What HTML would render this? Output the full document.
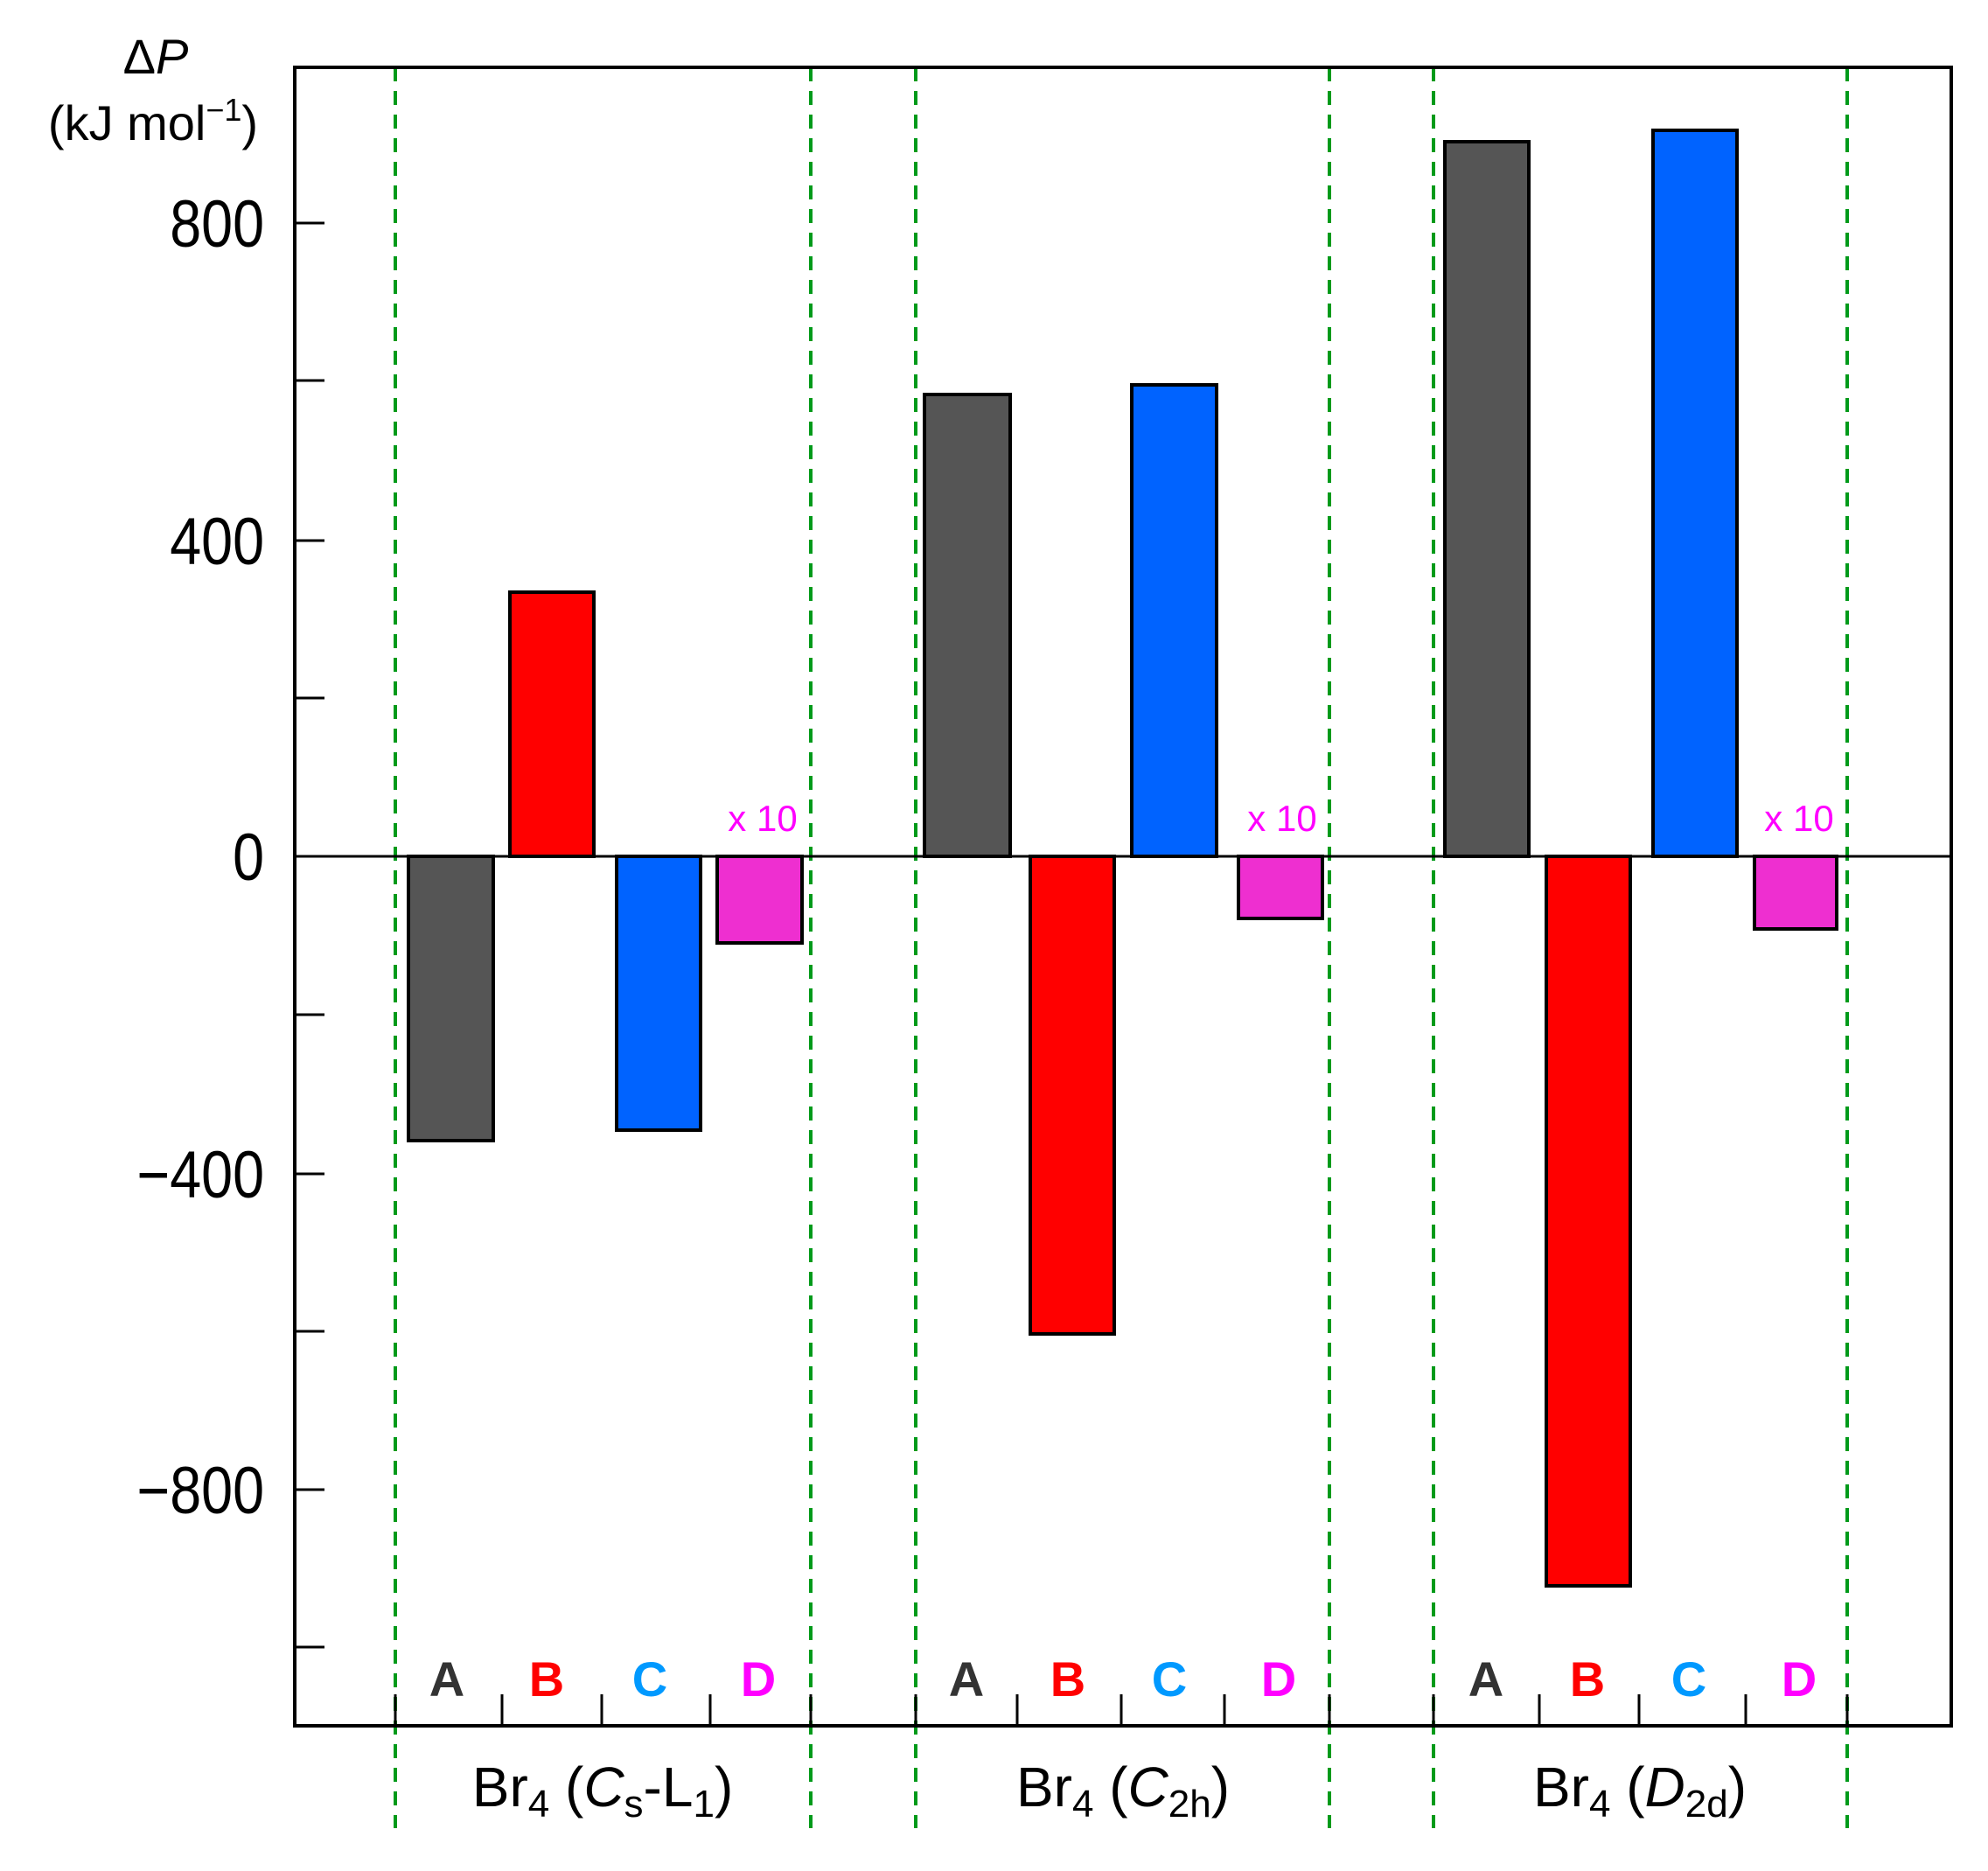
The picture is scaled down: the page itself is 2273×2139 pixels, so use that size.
<!DOCTYPE html>
<html><head><style>html,body{margin:0;padding:0;background:#fff}svg{display:block}</style></head>
<body>
<svg width="2273" height="2139" viewBox="0 0 2273 2139" xmlns="http://www.w3.org/2000/svg" font-family="Liberation Sans, Arial, sans-serif">
<rect width="2273" height="2139" fill="#fff"/>
<g stroke="#009a1a" stroke-width="4" stroke-dasharray="16 11">
<line x1="452" y1="77" x2="452" y2="2090"/>
<line x1="927" y1="77" x2="927" y2="2090"/>
<line x1="1047" y1="77" x2="1047" y2="2090"/>
<line x1="1520" y1="77" x2="1520" y2="2090"/>
<line x1="1639" y1="77" x2="1639" y2="2090"/>
<line x1="2112" y1="77" x2="2112" y2="2090"/>
</g>
<line x1="337" y1="979" x2="2231" y2="979" stroke="#000" stroke-width="3"/>
<g stroke="#000" stroke-width="4">
<rect x="467" y="979" width="97" height="325" fill="#555"/>
<rect x="583" y="677" width="96" height="302" fill="#ff0000"/>
<rect x="705" y="979" width="96" height="313" fill="#0063ff"/>
<rect x="820" y="979" width="97" height="99" fill="#ee2fd0"/>
<rect x="1057" y="451" width="98" height="528" fill="#555"/>
<rect x="1178" y="979" width="96" height="546" fill="#ff0000"/>
<rect x="1294" y="440" width="97" height="539" fill="#0063ff"/>
<rect x="1416" y="979" width="96" height="71" fill="#ee2fd0"/>
<rect x="1652" y="162" width="96" height="817" fill="#555"/>
<rect x="1768" y="979" width="96" height="834" fill="#ff0000"/>
<rect x="1890" y="149" width="96" height="830" fill="#0063ff"/>
<rect x="2006" y="979" width="94" height="83" fill="#ee2fd0"/>
</g>
<rect x="337" y="77" width="1894" height="1896" fill="none" stroke="#000" stroke-width="4"/>
<g stroke="#000" stroke-width="3">
<line x1="337" x2="371" y1="255" y2="255"/><line x1="337" x2="371" y1="435" y2="435"/>
<line x1="337" x2="371" y1="618" y2="618"/><line x1="337" x2="371" y1="798" y2="798"/>
<line x1="337" x2="371" y1="1160" y2="1160"/><line x1="337" x2="371" y1="1342" y2="1342"/>
<line x1="337" x2="371" y1="1522" y2="1522"/><line x1="337" x2="371" y1="1703" y2="1703"/>
<line x1="337" x2="371" y1="1883" y2="1883"/>
<g>
<line x1="452" x2="452" y1="1937" y2="1973"/><line x1="574" x2="574" y1="1937" y2="1973"/>
<line x1="688" x2="688" y1="1937" y2="1973"/><line x1="812" x2="812" y1="1937" y2="1973"/>
<line x1="927" x2="927" y1="1937" y2="1973"/><line x1="1047" x2="1047" y1="1937" y2="1973"/>
<line x1="1163" x2="1163" y1="1937" y2="1973"/><line x1="1282" x2="1282" y1="1937" y2="1973"/>
<line x1="1400" x2="1400" y1="1937" y2="1973"/><line x1="1520" x2="1520" y1="1937" y2="1973"/>
<line x1="1639" x2="1639" y1="1937" y2="1973"/><line x1="1760" x2="1760" y1="1937" y2="1973"/>
<line x1="1874" x2="1874" y1="1937" y2="1973"/><line x1="1996" x2="1996" y1="1937" y2="1973"/>
<line x1="2112" x2="2112" y1="1937" y2="1973"/>
</g>
</g>
<g font-size="76" text-anchor="end" fill="#000">
<text x="302" y="282" transform="translate(302 0) scale(0.85 1) translate(-302 0)">800</text>
<text x="302" y="645" transform="translate(302 0) scale(0.85 1) translate(-302 0)">400</text>
<text x="302" y="1006" transform="translate(302 0) scale(0.85 1) translate(-302 0)">0</text>
<text x="302" y="1369" transform="translate(302 0) scale(0.85 1) translate(-302 0)">−400</text>
<text x="302" y="1730" transform="translate(302 0) scale(0.85 1) translate(-302 0)">−800</text>
</g>
<text x="178" y="84" font-size="56" text-anchor="middle">Δ<tspan font-style="italic">P</tspan></text>
<text x="175" y="160" font-size="56" text-anchor="middle">(kJ mol<tspan font-size="36" dy="-22">−1</tspan><tspan dy="22">)</tspan></text>
<g font-size="42" fill="#ff00ff" text-anchor="middle">
<text x="872" y="950">x 10</text><text x="1466" y="950">x 10</text><text x="2057" y="950">x 10</text>
</g>
<g font-size="56" font-weight="bold" text-anchor="middle">
<text x="511" y="1939" fill="#333">A</text><text x="625" y="1939" fill="#ff0000">B</text><text x="743" y="1939" fill="#0099ff">C</text><text x="867" y="1939" fill="#ff00ff">D</text>
<text x="1105" y="1939" fill="#333">A</text><text x="1221" y="1939" fill="#ff0000">B</text><text x="1337" y="1939" fill="#0099ff">C</text><text x="1462" y="1939" fill="#ff00ff">D</text>
<text x="1699" y="1939" fill="#333">A</text><text x="1815" y="1939" fill="#ff0000">B</text><text x="1931" y="1939" fill="#0099ff">C</text><text x="2057" y="1939" fill="#ff00ff">D</text>
</g>
<g font-size="64" text-anchor="middle" fill="#000">
<text x="689" y="2065">Br<tspan font-size="44" dy="12">4</tspan><tspan dy="-12"> (</tspan><tspan font-style="italic">C</tspan><tspan font-size="44" dy="12">s</tspan><tspan dy="-12">-L</tspan><tspan font-size="44" dy="12">1</tspan><tspan dy="-12">)</tspan></text>
<text x="1284" y="2065">Br<tspan font-size="44" dy="12">4</tspan><tspan dy="-12"> (</tspan><tspan font-style="italic">C</tspan><tspan font-size="44" dy="12">2h</tspan><tspan dy="-12">)</tspan></text>
<text x="1875" y="2065">Br<tspan font-size="44" dy="12">4</tspan><tspan dy="-12"> (</tspan><tspan font-style="italic">D</tspan><tspan font-size="44" dy="12">2d</tspan><tspan dy="-12">)</tspan></text>
</g>
</svg>
</body></html>
